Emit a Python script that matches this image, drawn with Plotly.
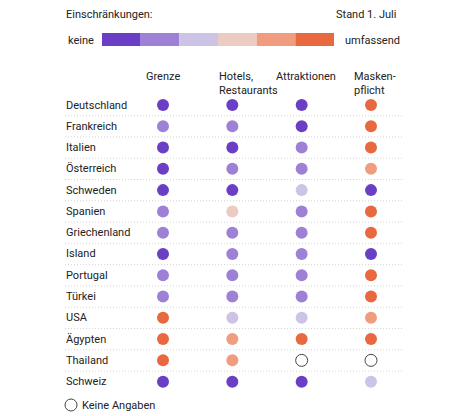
import plotly.graph_objects as go

W, H = 474, 416

countries = ["Deutschland", "Frankreich", "Italien", "Österreich", "Schweden", "Spanien",
             "Griechenland", "Island", "Portugal", "Türkei", "USA", "Ägypten", "Thailand", "Schweiz"]
columns = ["Grenze", "Hotels", "Attraktionen", "Maskenpflicht"]
column_labels = ["Grenze", "Hotels,<br>Restaurants", "Attraktionen", "Masken-<br>pflicht"]

# level 1 = keine ... 6 = umfassend, 0 = keine Angaben
grenze =        [1, 2, 1, 1, 1, 2, 2, 1, 2, 2, 6, 6, 6, 1]
hotels =        [1, 2, 1, 2, 1, 4, 2, 2, 2, 2, 3, 5, 5, 1]
attraktionen =  [1, 1, 2, 2, 3, 2, 2, 2, 2, 2, 3, 6, 0, 1]
maskenpflicht = [6, 6, 6, 5, 1, 6, 6, 1, 6, 6, 5, 6, 0, 3]

level_colors = ["#6a3fc6", "#9d81d7", "#cdc3e6", "#eccbc3", "#ef9c7f", "#e8683f"]

values = [grenze, hotels, attraktionen, maskenpflicht]

FONT = "Roboto"
FS = 11
TXT = "#222222"

def px(x):
    return x / W

def py(y):
    return 1 - y / H

fig = go.Figure()

for col, vals in zip(columns, values):
    fig.add_trace(go.Scatter(
        x=[col] * len(countries),
        y=countries,
        mode="markers",
        marker=dict(
            size=12,
            color=[level_colors[v - 1] if v > 0 else "white" for v in vals],
            line=dict(color=["#444444" if v == 0 else "rgba(0,0,0,0)" for v in vals],
                      width=[1 if v == 0 else 0 for v in vals]),
        ),
        hoverinfo="skip",
        showlegend=False,
        cliponaxis=False,
    ))

shapes = []
# dotted row separators
for i in range(len(countries) - 1):
    shapes.append(dict(type="line", xref="paper", yref="y",
                       x0=px(65), x1=px(402), y0=i + 0.5, y1=i + 0.5,
                       line=dict(color="#d4d4d4", width=1, dash="1px,2px")))

# colour scale legend
x0, x1 = 102, 334
seg = (x1 - x0) / len(level_colors)
for k, c in enumerate(level_colors):
    shapes.append(dict(type="rect", xref="paper", yref="paper",
                       x0=px(x0 + k * seg), x1=px(x0 + (k + 1) * seg),
                       y0=py(46), y1=py(33), fillcolor=c, line=dict(width=0)))

# keine Angaben symbol
shapes.append(dict(type="circle", xref="paper", yref="paper",
                   x0=px(65), x1=px(77), y0=py(411), y1=py(399),
                   fillcolor="white", line=dict(color="#444444", width=1)))

annotations = []
for c in countries:
    annotations.append(dict(text=c, xref="paper", yref="y", x=px(64), y=c,
                            xanchor="left", yanchor="middle", showarrow=False,
                            font=dict(family=FONT, size=FS, color=TXT)))

header_pos = [(163, "center"), (217, "left"), (274, "left"), (352, "left")]
for lab, (hx, anch) in zip(column_labels, header_pos):
    annotations.append(dict(text=lab, xref="paper", yref="paper", x=px(hx), y=py(68),
                            xanchor=anch, yanchor="top", align="left", showarrow=False,
                            font=dict(family=FONT, size=FS, color=TXT)))

annotations += [
    dict(text="Einschränkungen:", xref="paper", yref="paper", x=px(64), y=py(15),
         xanchor="left", yanchor="middle", showarrow=False,
         font=dict(family=FONT, size=FS, color=TXT)),
    dict(text="Stand 1. Juli", xref="paper", yref="paper", x=px(398), y=py(15),
         xanchor="right", yanchor="middle", showarrow=False,
         font=dict(family=FONT, size=FS, color=TXT)),
    dict(text="keine", xref="paper", yref="paper", x=px(66), y=py(40),
         xanchor="left", yanchor="middle", showarrow=False,
         font=dict(family=FONT, size=FS, color=TXT)),
    dict(text="umfassend", xref="paper", yref="paper", x=px(343), y=py(40),
         xanchor="left", yanchor="middle", showarrow=False,
         font=dict(family=FONT, size=FS, color=TXT)),
    dict(text="Keine Angaben", xref="paper", yref="paper", x=px(80), y=py(405),
         xanchor="left", yanchor="middle", showarrow=False,
         font=dict(family=FONT, size=FS, color=TXT)),
]

# pixel geometry of dot grid
cx0, cdx = 163, 69.33
ry0, rdy = 105, 21.28

fig.update_layout(
    width=W, height=H,
    margin=dict(l=0, r=0, t=0, b=0),
    paper_bgcolor="white", plot_bgcolor="white",
    xaxis=dict(type="category", categoryorder="array", categoryarray=columns,
               range=[-cx0 / cdx, (W - cx0) / cdx],
               showgrid=False, zeroline=False, showticklabels=False, showline=False,
               fixedrange=True),
    yaxis=dict(type="category", categoryorder="array", categoryarray=countries,
               range=[(H - ry0) / rdy, -ry0 / rdy],
               showgrid=False, zeroline=False, showticklabels=False, showline=False,
               fixedrange=True),
    shapes=shapes,
    annotations=annotations,
    showlegend=False,
)

fig.write_html("out.html", config={"displayModeBar": False},
               post_script="document.body.style.margin='0';document.body.style.overflow='hidden';")
